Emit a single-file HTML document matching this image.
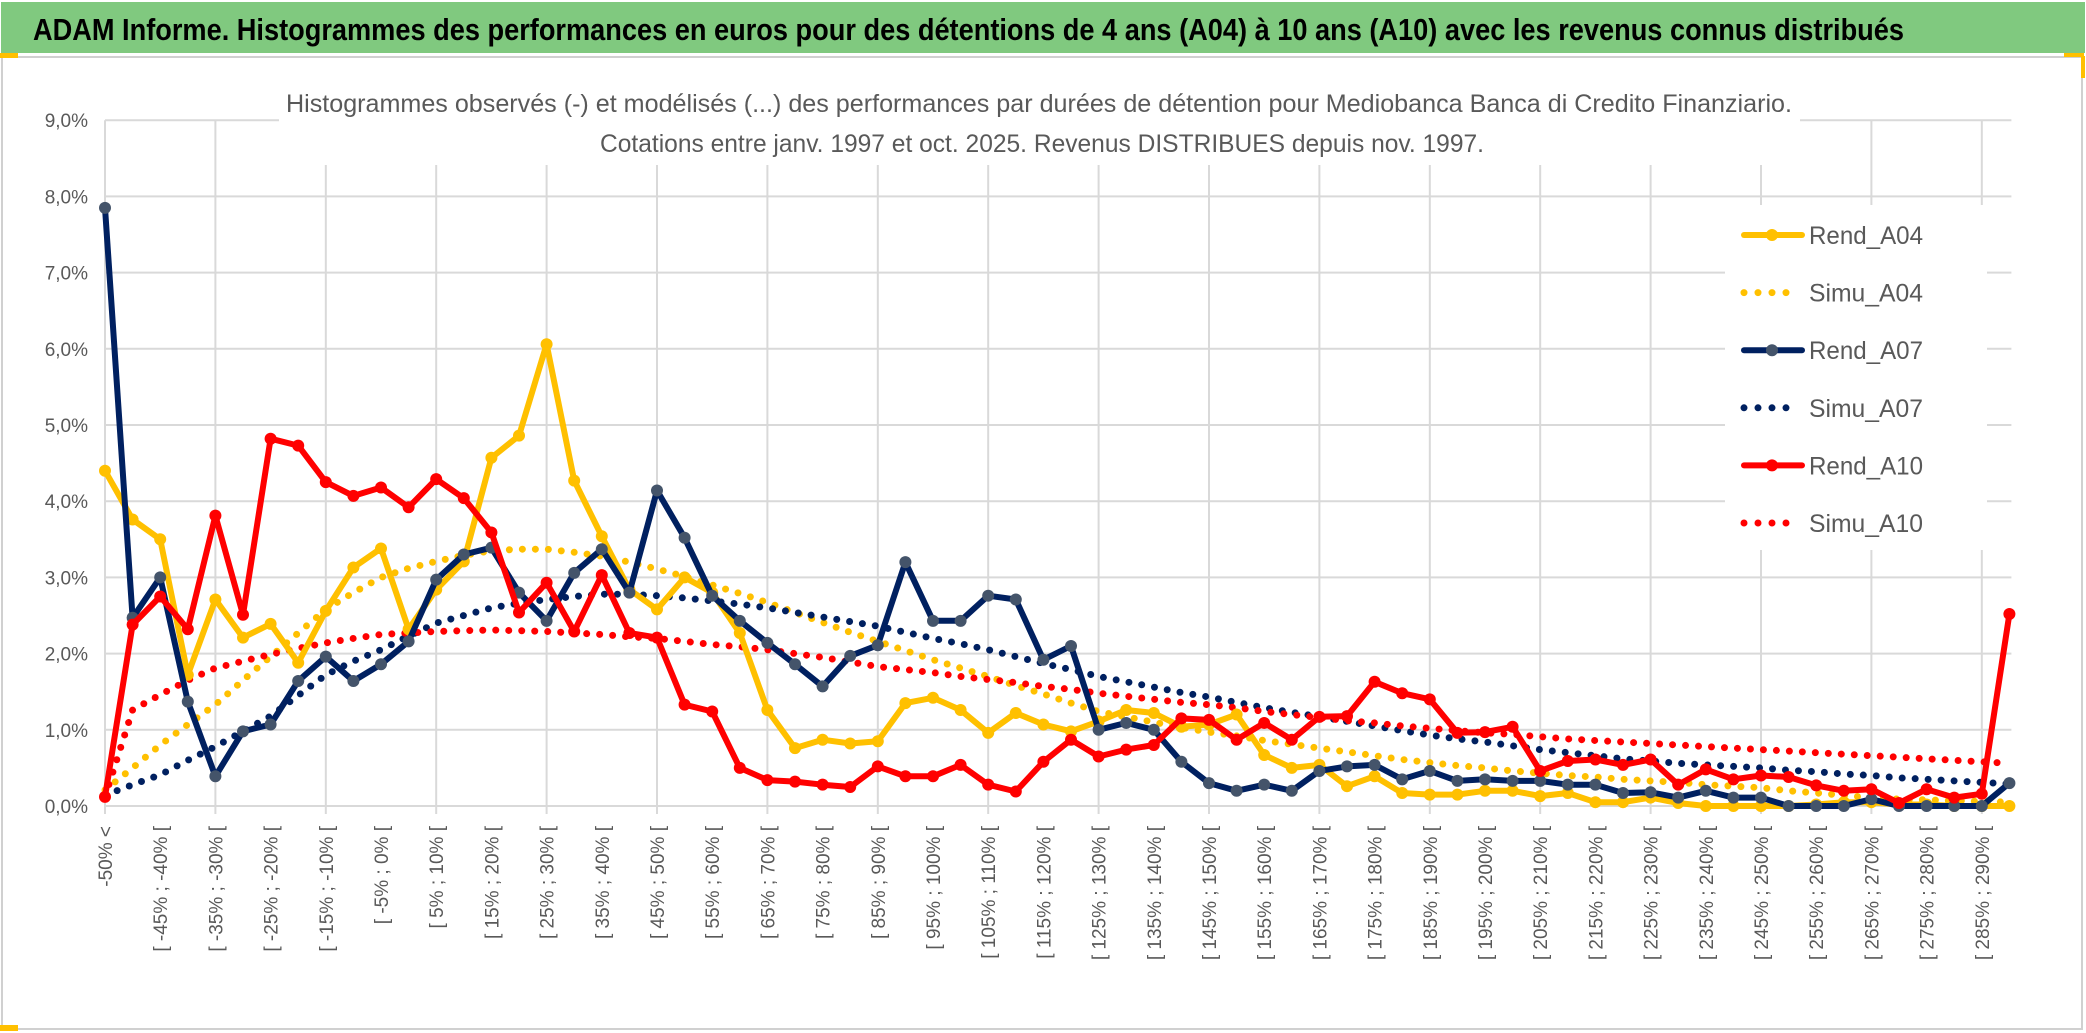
<!DOCTYPE html>
<html><head><meta charset="utf-8">
<style>
html,body{margin:0;padding:0;background:#fff;}
svg{display:block;}
text{font-family:"Liberation Sans",sans-serif;}
</style></head>
<body>
<svg id="chart" width="2086" height="1033" viewBox="0 0 2086 1033" xmlns="http://www.w3.org/2000/svg">
  <rect x="0" y="0" width="2086" height="1033" fill="#fff"/>
  <rect x="1" y="2" width="2084" height="51" fill="#80C97F"/>
  <text x="33" y="40" font-size="31" font-weight="bold" fill="#000" textLength="1871" lengthAdjust="spacingAndGlyphs">ADAM Informe. Histogrammes des performances en euros pour des détentions de 4 ans (A04) à 10 ans (A10) avec les revenus connus distribués</text>
  <rect x="2" y="57" width="2080" height="972" fill="none" stroke="#d0d0d0" stroke-width="2"/>
  <rect x="0" y="53" width="18" height="5" fill="#FFC000"/>
  <rect x="2064" y="53" width="20" height="4" fill="#FFC000"/>
  <rect x="2081" y="56" width="4" height="22" fill="#FFC000"/>
  <rect x="0" y="1025" width="18" height="6" fill="#FFC000"/>
  <g id="grid"></g>
  <rect x="279" y="110" width="1521" height="55" fill="#fff"/>
  <text x="286" y="112" font-size="25" fill="#595959" textLength="1506" lengthAdjust="spacingAndGlyphs">Histogrammes observés (-) et modélisés (...) des performances par durées de détention pour Mediobanca Banca di Credito Finanziario.</text>
  <text x="600" y="152" font-size="25" fill="#595959" textLength="884" lengthAdjust="spacingAndGlyphs">Cotations entre janv. 1997 et oct. 2025. Revenus DISTRIBUES depuis nov. 1997.</text>
  <g id="yaxis"></g>
  <g id="xaxis"></g>
  <g id="series"></g>
  <g id="legend"></g>
</svg>
<script>
const yTicks = [0,1,2,3,4,5,6,7,8,9];
const simA04 = [0.21,0.5,0.8,1.07,1.33,1.65,1.96,2.27,2.58,2.8,
 3.0,3.12,3.21,3.29,3.35,3.37,3.37,3.33,3.28,3.2,
 3.11,3.01,2.9,2.79,2.67,2.54,2.41,2.28,2.16,2.04,
 1.92,1.81,1.7,1.58,1.47,1.35,1.24,1.17,1.1,1.03,
 0.97,0.92,0.86,0.81,0.76,0.71,0.66,0.61,0.57,0.53,
 0.5,0.46,0.43,0.4,0.38,0.35,0.33,0.31,0.28,0.26,
 0.24,0.2,0.17,0.14,0.11,0.09,0.08,0.07,0.06,0.05];
const simA07 = [0.14,0.28,0.41,0.6,0.78,0.98,1.18,1.45,1.72,1.9,
 2.05,2.23,2.4,2.5,2.6,2.66,2.71,2.75,2.78,2.78,
 2.76,2.73,2.69,2.65,2.6,2.54,2.48,2.42,2.36,2.28,
 2.2,2.13,2.05,1.96,1.87,1.79,1.7,1.63,1.56,1.49,
 1.43,1.36,1.29,1.23,1.17,1.11,1.05,0.99,0.93,0.88,
 0.84,0.79,0.74,0.7,0.66,0.62,0.59,0.56,0.54,0.52,
 0.5,0.47,0.45,0.42,0.4,0.37,0.35,0.33,0.31,0.29];
const simA10 = [0.12,1.26,1.46,1.65,1.81,1.9,1.99,2.07,2.14,2.2,
 2.25,2.27,2.29,2.3,2.31,2.3,2.29,2.27,2.25,2.22,
 2.2,2.16,2.12,2.09,2.05,2.0,1.95,1.89,1.83,1.79,
 1.75,1.7,1.66,1.62,1.57,1.53,1.48,1.44,1.4,1.36,
 1.33,1.29,1.24,1.2,1.16,1.12,1.09,1.05,1.02,0.99,
 0.96,0.94,0.91,0.88,0.86,0.84,0.82,0.8,0.78,0.76,
 0.74,0.72,0.7,0.68,0.66,0.64,0.62,0.6,0.58,0.56];
const rendA04 = [4.40,3.76,3.50,1.72,2.71,2.21,2.39,1.88,2.56,3.13,
 3.38,2.32,2.84,3.21,4.57,4.86,6.06,4.27,3.54,2.84,
 2.58,3.0,2.8,2.27,1.26,0.76,0.87,0.82,0.85,1.35,
 1.42,1.26,0.96,1.22,1.07,0.98,1.11,1.26,1.22,1.04,
 1.07,1.20,0.67,0.50,0.54,0.26,0.39,0.17,0.15,0.15,
 0.2,0.2,0.13,0.17,0.05,0.05,0.11,0.04,0.0,0.0,
 0.0,0.0,0.02,0.05,0.05,0.02,0.02,0.0,0.0,0.0];
const rendA07 = [7.85,2.47,3.0,1.37,0.39,0.98,1.07,1.64,1.96,1.64,
 1.86,2.16,2.97,3.30,3.39,2.80,2.43,3.06,3.37,2.80,
 4.14,3.52,2.76,2.43,2.14,1.86,1.57,1.97,2.11,3.2,
 2.43,2.43,2.76,2.71,1.92,2.10,1.0,1.09,1.0,0.58,
 0.30,0.2,0.28,0.2,0.46,0.52,0.54,0.35,0.46,0.33,
 0.35,0.33,0.33,0.28,0.28,0.17,0.18,0.11,0.2,0.11,
 0.11,0,0,0,0.09,0,0,0,0,0.30];
const rendA10 = [0.12,2.38,2.75,2.32,3.81,2.51,4.82,4.73,4.25,4.07,
 4.18,3.92,4.29,4.04,3.59,2.54,2.93,2.29,3.03,2.27,
 2.21,1.33,1.24,0.5,0.34,0.32,0.28,0.25,0.52,0.39,
 0.39,0.54,0.28,0.19,0.58,0.87,0.65,0.74,0.80,1.15,
 1.13,0.87,1.09,0.87,1.17,1.18,1.63,1.48,1.40,0.96,
 0.97,1.04,0.46,0.59,0.61,0.54,0.61,0.28,0.48,0.35,
 0.4,0.38,0.27,0.2,0.22,0.04,0.22,0.11,0.16,2.52];
const categoryCount = 70;
const categories = [];
for (let k = 0; k < categoryCount; k++) {
  if (k === 0) categories.push('-50% <');
  else if (k === categoryCount - 1) categories.push('> 290%');
  else categories.push('[ ' + (-55 + 5 * k) + '% ; ' + (-50 + 5 * k) + '% [');
}

const NS = 'http://www.w3.org/2000/svg';
const X0 = 105, DX = 27.6, Y0 = 806, PX = 76.2;
const xs = i => X0 + DX * i;
const ys = v => Y0 - PX * v;
function mk(tag, attrs, parent) {
  const e = document.createElementNS(NS, tag);
  for (const k in attrs) e.setAttribute(k, attrs[k]);
  parent.appendChild(e);
  return e;
}
const grid = document.getElementById('grid');
const plotRight = xs(categoryCount - 1) + 2;
yTicks.forEach(t => {
  const l = mk('line', {x1: X0, x2: plotRight, y1: ys(t), y2: ys(t), stroke: '#d9d9d9', 'stroke-width': 2}, grid);
  
  
});
for (let i = 0; i < categoryCount; i += 4) {
  const l = mk('line', {x1: xs(i), x2: xs(i), y1: ys(9), y2: Y0 + 8, stroke: '#d9d9d9', 'stroke-width': 2}, grid);
  
  
}
const yaxis = document.getElementById('yaxis');
yTicks.forEach(t => {
  const tx = mk('text', {x: 88, y: ys(t) + 7, 'font-size': 19, fill: '#595959', 'text-anchor': 'end'}, yaxis);
  tx.textContent = t.toFixed(1).replace('.', ',') + '%';
  
  
});
const xaxis = document.getElementById('xaxis');
for (let i = 0; i < categoryCount; i += 2) {
  const x = xs(i) + 7, y = 826;
  const tx = mk('text', {x: x, y: y, 'font-size': 19, fill: '#595959', 'text-anchor': 'end', transform: 'rotate(-90 ' + x + ' ' + y + ')'}, xaxis);
  tx.textContent = categories[i];
  
  
}
const series = document.getElementById('series');
function pts(arr) { return arr.map((v, i) => xs(i).toFixed(1) + ',' + ys(v).toFixed(1)).join(' '); }
function dotted(arr, color, name) {
  const p = mk('polyline', {points: pts(arr), fill: 'none', stroke: color, 'stroke-width': 7, 'stroke-linecap': 'round', 'stroke-dasharray': '0 13'}, series);
  
  
}
function solid(arr, color, mcolor, name) {
  const g = mk('g', {}, series);
  
  
  mk('polyline', {points: pts(arr), fill: 'none', stroke: color, 'stroke-width': 6, 'stroke-linejoin': 'round'}, g);
  arr.forEach((v, i) => {
    const c = mk('circle', {cx: xs(i), cy: ys(v), r: 6, fill: mcolor}, g);
    
    
  });
}
dotted(simA04, '#FFC000', 'simu-a04-line');
dotted(simA07, '#002060', 'simu-a07-line');
dotted(simA10, '#FF0000', 'simu-a10-line');
solid(rendA04, '#FFC000', '#FFC000', 'rend-a04-line');
solid(rendA07, '#002060', '#44546A', 'rend-a07-line');
solid(rendA10, '#FF0000', '#FF0000', 'rend-a10-line');

const legend = document.getElementById('legend');
mk('rect', {x: 1725, y: 205, width: 262, height: 345, fill: '#fff'}, legend);
const legNames = ['Rend_A04','Simu_A04','Rend_A07','Simu_A07','Rend_A10','Simu_A10'];
const legColors = ['#FFC000','#FFC000','#002060','#002060','#FF0000','#FF0000'];
const legMarkers = ['#FFC000',null,'#44546A',null,'#FF0000',null];
legNames.forEach((n, k) => {
  const y = 235 + k * 57.6;
  const g = mk('g', {}, legend);
  
  
  if (legMarkers[k]) {
    mk('line', {x1: 1744, x2: 1802, y1: y, y2: y, stroke: legColors[k], 'stroke-width': 6, 'stroke-linecap': 'round'}, g);
    mk('circle', {cx: 1772, cy: y, r: 6, fill: legMarkers[k]}, g);
  } else {
    mk('line', {x1: 1744, x2: 1800, y1: y, y2: y, stroke: legColors[k], 'stroke-width': 7, 'stroke-linecap': 'round', 'stroke-dasharray': '0 14'}, g);
  }
  const t = mk('text', {x: 1809, y: y + 9, 'font-size': 25, fill: '#595959', textLength: 114, lengthAdjust: 'spacingAndGlyphs'}, g);
  t.textContent = n;
});
</script>
</body></html>
